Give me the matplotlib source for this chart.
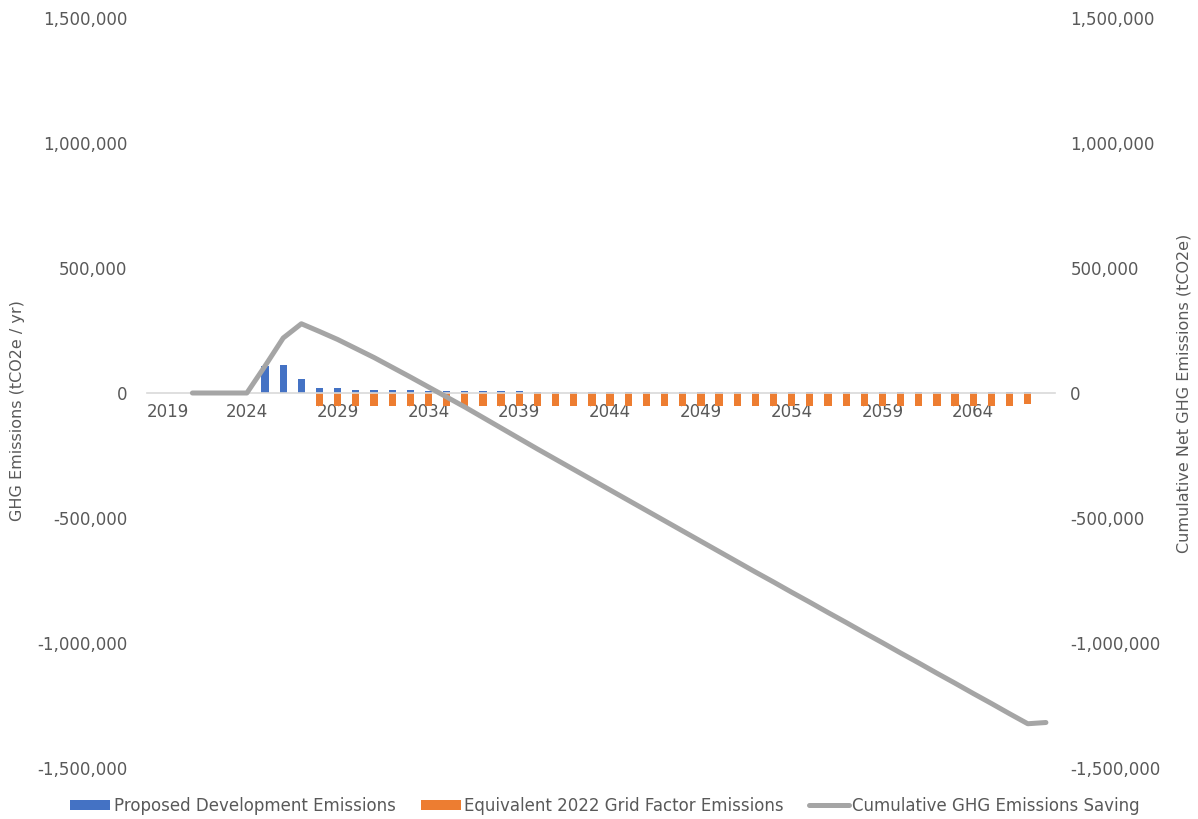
import numpy as np
import matplotlib
matplotlib.use("Agg")
import matplotlib.pyplot as plt
import matplotlib.transforms as mtransforms

# categories: one per year
years = list(range(2019, 2069))

# annual emissions (tCO2e / yr)
proposed = [0, 0, 0, 0, 0, 0,
            108000, 112000, 57000, 19000, 19000, 14000, 14000, 11000, 11000, 10000,
            10000, 10000, 8000, 7000, 7000, 6000, 6000, 6000, 6000, 6000,
            6000, 6000, 6000, 6000, 6000, 6000, 6000, 6000, 6000, 6000,
            6000, 6000, 6000, 5000, 5000, 5000, 5000, 5000, 5000, 5000,
            5000, 5000, 5000, 0]
grid_2022 = [0, 0, 0, 0, 0, 0, 0, 0, 0,
             -50000, -50000, -50000, -50000, -50000, -50000, -50000, -50000, -50000, -50000,
             -50000, -50000, -50000, -50000, -50000, -50000, -50000, -50000, -50000, -50000,
             -50000, -50000, -50000, -50000, -50000, -50000, -50000, -50000, -50000, -50000,
             -50000, -50000, -50000, -50000, -50000, -50000, -50000, -50000, -50000,
             -44000, 0]

# cumulative net emissions (tCO2e), starts in 2021
cumulative = [np.nan, np.nan,
              0, 0, 0, 0, 108000, 220000, 277000, 246000, 214000, 178000,
              142000, 103000, 64000, 24000, -16000, -56000, -98000, -140000,
              -182000, -224000, -265000, -306000, -347000, -388000, -429000,
              -470000, -511000, -552000, -593000, -634000, -675000, -716000,
              -756000, -797000, -837000, -878000, -918000, -959000, -999000,
              -1040000, -1080000, -1121000, -1161000, -1202000, -1242000,
              -1283000, -1323000, -1318000]

blue = '#4472C4'
orange = '#ED7D31'
grey = '#A5A5A5'
txt = '#595959'

fig = plt.figure(figsize=(11.98, 8.19), dpi=100)
ax = fig.add_axes([147/1198, 1 - 768/819, 908/1198, 750/819])
ax2 = ax.twinx()

x = np.arange(len(years))
ax.bar(x, proposed, 0.4, color=blue, label='Proposed Development Emissions', zorder=2)
ax.bar(x, grid_2022, 0.4, color=orange, label='Equivalent 2022 Grid Factor Emissions', zorder=2)
ax2.plot(x, cumulative, color=grey, lw=3.6, solid_capstyle='round', solid_joinstyle='round',
         label='Cumulative GHG Emissions Saving')

lim = (-1500000, 1500000)
ticks = np.arange(-1500000, 1500001, 500000)
for a in (ax, ax2):
    a.set_ylim(lim)
    a.set_yticks(ticks)
    a.set_yticklabels([f'{t:,}' for t in ticks])
    a.set_xlim(-0.5, len(years) - 0.5)
    for s in a.spines.values():
        s.set_visible(False)
    a.tick_params(length=0, labelsize=12, labelcolor=txt)

ax.tick_params(axis='y', pad=14)
ax2.tick_params(axis='y', pad=11)

# category axis sits on the zero line
ax.spines['bottom'].set_visible(True)
ax.spines['bottom'].set_position(('data', 0))
ax.spines['bottom'].set_color('#D9D9D9')
ax.spines['bottom'].set_linewidth(1.2)
ax.set_xticks(x[::5])
ax.set_xticklabels([str(y) for y in years[::5]])
ax.tick_params(axis='x', pad=7)
first = ax.get_xticklabels()[0]
first.set_horizontalalignment('left')
first.set_transform(first.get_transform() +
                    mtransforms.ScaledTranslation(-0.09, 0, fig.dpi_scale_trans))

ax.set_ylabel('GHG Emissions (tCO2e / yr)', fontsize=11.5, color=txt)
ax.yaxis.set_label_coords(-0.134, 0.476)
ax2.set_ylabel('Cumulative Net GHG Emissions (tCO2e)', fontsize=11.5, color=txt,
               rotation=90)
ax2.yaxis.set_label_coords(1.134, 0.5)

h1, l1 = ax.get_legend_handles_labels()
h2, l2 = ax2.get_legend_handles_labels()
fig.legend(h1 + h2, l1 + l2, loc='center', bbox_to_anchor=(0.505, 0.016), ncol=3,
           frameon=False, fontsize=12, labelcolor=txt, handlelength=2.4,
           handleheight=0.6, handletextpad=0.2, columnspacing=1.5)

fig.savefig('out.png', dpi=100)
